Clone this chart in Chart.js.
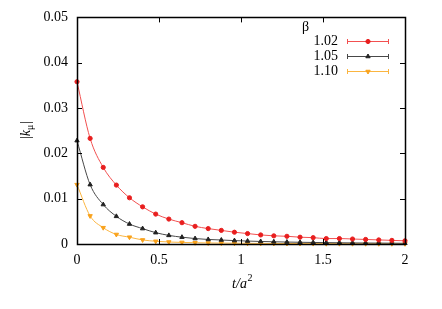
<!DOCTYPE html>
<html>
<head>
<meta charset="utf-8">
<script src="https://cdn.jsdelivr.net/npm/chart.js@4/dist/chart.umd.min.js"></script>
<style>
  html, body { margin: 0; padding: 0; background: #fff; }
  #wrap { width: 442px; height: 309px; }
</style>
</head>
<body>
<div id="wrap"><canvas id="kChart" width="442" height="309"></canvas></div>
<script>
// flow time t/a^2
const tValues = [0, 0.08, 0.16, 0.24, 0.32, 0.40, 0.48, 0.56, 0.64, 0.72, 0.80, 0.88, 0.96,
    1.04, 1.12, 1.20, 1.28, 1.36, 1.44, 1.52, 1.60, 1.68, 1.76, 1.84, 1.92, 2.00];

// |k_mu| for each beta
const k102 = [0.0358, 0.0233, 0.0169, 0.0130, 0.0102, 0.0082, 0.0066, 0.0055, 0.0047, 0.0039,
    0.0034, 0.0030, 0.0026, 0.0023, 0.0020, 0.0018, 0.0017, 0.0015, 0.0014, 0.0012, 0.0012,
    0.0011, 0.0010, 0.0009, 0.0008, 0.0007];
const k105 = [0.0228, 0.0131, 0.0087, 0.0061, 0.0044, 0.0034, 0.0025, 0.0019, 0.0015, 0.0012,
    0.0010, 0.00088, 0.00075, 0.00065, 0.00056, 0.00049, 0.00043, 0.00038, 0.00034, 0.0003,
    0.00027, 0.00024, 0.00022, 0.0002, 0.00018, 0.00016];
const k110 = [0.0131, 0.0062, 0.0036, 0.0021, 0.0015, 0.0009, 0.0006, 0.00044, 0.00035, 0.00028,
    0.00023, 0.0002, 0.00017, 0.00015, 0.00013, 0.00012, 0.00011, 0.0001, 0.00009, 0.00008,
    0.00008, 0.00007, 0.00007, 0.00006, 0.00006, 0.00005];

const betaLabels = ['1.02', '1.05', '1.10'];
const xTicks = [0, 0.5, 1, 1.5, 2];
const yTicks = [0, 0.01, 0.02, 0.03, 0.04, 0.05];

const serif = '"Liberation Serif", "DejaVu Serif", serif';

function pts(ys) {
    return tValues.map((t, i) => ({ x: t, y: ys[i] }));
}

const series = [
    { label: betaLabels[0], data: k102, line: '#f25050', point: '#e81e1e', style: 'circle', rot: 0, r: 2.1 },
    { label: betaLabels[1], data: k105, line: '#484848', point: '#222222', style: 'triangle', rot: 0, r: 2.5 },
    { label: betaLabels[2], data: k110, line: '#fbb540', point: '#f9a21c', style: 'triangle', rot: 180, r: 2.5 }
];

// frame, inward ticks on all four sides, legend and axis titles (gnuplot look)
const framePlugin = {
    id: 'frame',
    afterDraw(chart) {
        const ctx = chart.ctx;
        const a = chart.chartArea;
        const xs = chart.scales.x, ys = chart.scales.y;
        ctx.save();
        ctx.strokeStyle = '#000';
        ctx.lineWidth = 1;
        ctx.beginPath();
        xTicks.forEach(v => {
            const px = Math.round(xs.getPixelForValue(v)) + 0.5;
            ctx.moveTo(px, a.bottom); ctx.lineTo(px, a.bottom - 5);
            ctx.moveTo(px, a.top); ctx.lineTo(px, a.top + 5);
        });
        yTicks.forEach(v => {
            const py = Math.round(ys.getPixelForValue(v)) + 0.5;
            ctx.moveTo(a.left, py); ctx.lineTo(a.left + 5, py);
            ctx.moveTo(a.right, py); ctx.lineTo(a.right - 5, py);
        });
        ctx.stroke();
        ctx.lineWidth = 1.5;
        ctx.strokeRect(Math.round(a.left) + 0.5, Math.round(a.top) + 0.5,
            Math.round(a.right - a.left), Math.round(a.bottom - a.top));

        // legend
        ctx.fillStyle = '#000';
        ctx.font = '14px ' + serif;
        ctx.textBaseline = 'middle';
        ctx.textAlign = 'left';
        ctx.fillText('β', 302, 27);
        series.forEach((s, i) => {
            const y = 41 + i * 15;
            ctx.fillStyle = '#000';
            ctx.textAlign = 'right';
            ctx.fillText(s.label, 338, y);
            ctx.strokeStyle = s.line;
            ctx.lineWidth = 1;
            ctx.beginPath();
            ctx.moveTo(347, y + 0.5); ctx.lineTo(388, y + 0.5);
            ctx.moveTo(347.5, y - 2); ctx.lineTo(347.5, y + 3);
            ctx.moveTo(388.5, y - 2); ctx.lineTo(388.5, y + 3);
            ctx.stroke();
            ctx.fillStyle = s.point;
            ctx.strokeStyle = s.point;
            Chart.helpers.drawPoint(ctx, {
                pointStyle: s.style, radius: s.r, rotation: s.rot, borderWidth: 1
            }, 368, y + 0.5);
        });

        // x title t/a^2
        ctx.fillStyle = '#000';
        ctx.textAlign = 'left';
        ctx.textBaseline = 'alphabetic';
        ctx.font = 'italic 14px ' + serif;
        const xt = 't/a';
        const w = ctx.measureText(xt).width;
        ctx.font = '10px ' + serif;
        const w2 = ctx.measureText('2').width;
        const x0 = 242 - (w + w2) / 2;
        ctx.font = 'italic 14px ' + serif;
        ctx.fillText(xt, x0, 288);
        ctx.font = '10px ' + serif;
        ctx.fillText('2', x0 + w + 0.5, 281);

        // y title |k_mu|
        ctx.translate(30, 130);
        ctx.rotate(-Math.PI / 2);
        ctx.font = '14px ' + serif;
        const bar = '|';
        const wb = ctx.measureText(bar).width;
        ctx.font = 'italic 14px ' + serif;
        const wk = ctx.measureText('k').width;
        ctx.font = '10px ' + serif;
        const wm = ctx.measureText('μ').width;
        const total = wb * 2 + wk + wm + 1;
        let cx = -total / 2;
        ctx.font = '14px ' + serif;
        ctx.fillText(bar, cx, 0); cx += wb;
        ctx.font = 'italic 14px ' + serif;
        ctx.fillText('k', cx, 0); cx += wk;
        ctx.font = '10px ' + serif;
        ctx.fillText('μ', cx, 3); cx += wm + 1;
        ctx.font = '14px ' + serif;
        ctx.fillText(bar, cx, 0);
        ctx.restore();
    }
};

const ctx = document.getElementById('kChart').getContext('2d');
const kChart = new Chart(ctx, {
    type: 'scatter',
    data: {
        datasets: series.map(s => ({
            label: s.label,
            data: pts(s.data),
            showLine: true,
            borderColor: s.line,
            borderWidth: 1,
            tension: 0.4,
            cubicInterpolationMode: 'monotone',
            pointStyle: s.style,
            rotation: s.rot,
            pointRadius: s.r,
            pointBackgroundColor: s.point,
            pointBorderColor: s.point,
            pointBorderWidth: 1,
            clip: false
        }))
    },
    options: {
        responsive: false,
        animation: false,
        devicePixelRatio: 1,
        layout: { padding: { left: 0, top: 15, right: 37, bottom: 0 } },
        plugins: { legend: { display: false }, tooltip: { enabled: false } },
        scales: {
            x: {
                type: 'linear', min: 0, max: 2,
                afterBuildTicks: s => { s.ticks = xTicks.map(v => ({ value: v })); },
                afterFit: s => { s.height = 65; },
                grid: { display: false, drawTicks: false },
                border: { display: false },
                ticks: {
                    padding: 8, color: '#000',
                    font: { family: serif, size: 14 },
                    callback: v => String(v)
                }
            },
            y: {
                type: 'linear', min: 0, max: 0.05,
                afterBuildTicks: s => { s.ticks = yTicks.map(v => ({ value: v })); },
                afterFit: s => { s.width = 77; },
                grid: { display: false, drawTicks: false },
                border: { display: false },
                ticks: {
                    padding: 9, color: '#000',
                    font: { family: serif, size: 14 },
                    callback: v => v === 0 ? '0' : v.toFixed(2)
                }
            }
        }
    },
    plugins: [framePlugin]
});
</script>
</body>
</html>
